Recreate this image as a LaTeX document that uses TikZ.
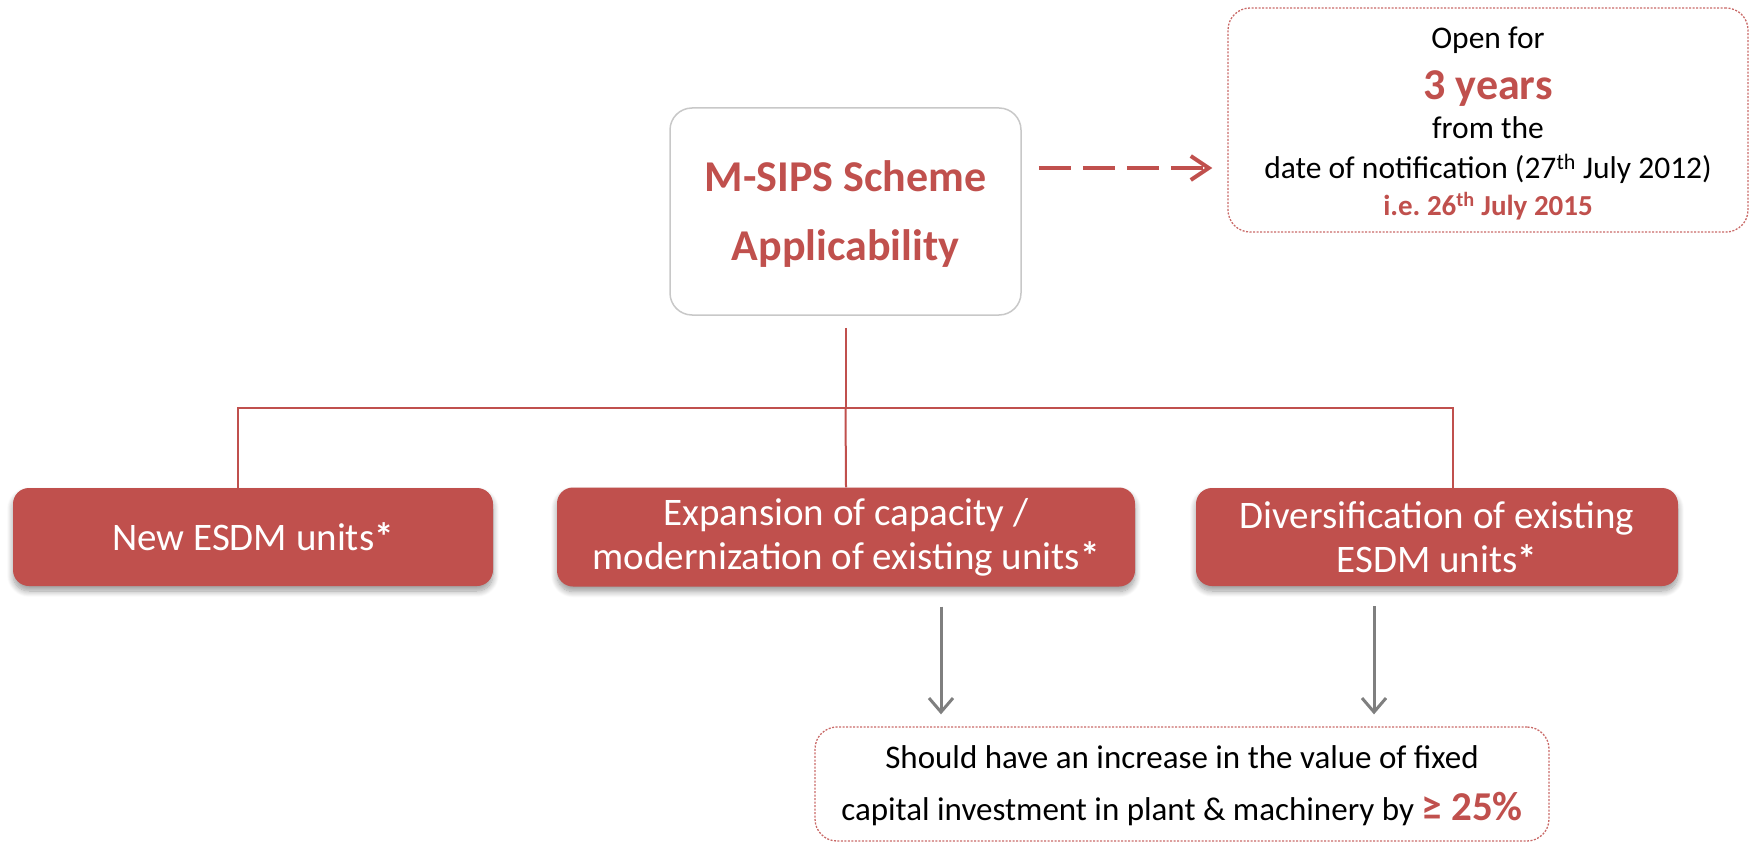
\documentclass[tikz,border=0pt]{standalone}
\usepackage{fontspec}
\setmainfont{Carlito}
\usetikzlibrary{arrows.meta,shadows.blur}
\definecolor{accent}{HTML}{C0504D}
\definecolor{framegray}{HTML}{C8C8C8}
\definecolor{arrowgray}{HTML}{7F7F7F}
\newcommand{\boldstar}{\textbf{*}}

\begin{document}
\begin{tikzpicture}[x=1pt,y=-1pt,
  redbox/.style={rectangle, rounded corners=16pt, fill=accent, draw=none,
    text=white, align=center, inner sep=0pt,
    font=\fontsize{39}{44}\selectfont,
    blur shadow={shadow xshift=0pt, shadow yshift=-5pt, shadow blur steps=10,
      shadow opacity=40, shadow blur radius=6pt}},
  titlebox/.style={rectangle, rounded corners=22pt, draw=framegray, line width=1.5pt,
    fill=white, align=center, inner sep=0pt, text=accent,
    font=\fontsize{44}{69}\selectfont\bfseries},
  notebox/.style={rectangle, rounded corners=22pt, draw=accent!85, line width=1.3pt,
    dash pattern=on 2pt off 1.5pt, inner sep=0pt},
  txt/.style={anchor=base, inner sep=0pt, font=\fontsize{31.5}{37}\selectfont},
  conn/.style={draw=accent, line width=2pt},
  dasharrow/.style={draw=accent, line width=4pt, dash pattern=on 32pt off 12pt,
    -{Straight Barb[length=18pt,width=24pt]}},
  grayarrow/.style={draw=arrowgray, line width=3pt,
    -{Straight Barb[length=14pt,width=24pt]}}
]
\useasboundingbox (0,0) rectangle (1750,842);

% main heading
\node[titlebox, minimum width=351pt, minimum height=207pt] (top) at (845.5,211.5)
  {\rule{0pt}{36pt}M-SIPS Scheme\\Applicability};

% validity note
\node[notebox, minimum width=520pt, minimum height=224pt] (open) at (1488,120) {};
\node[txt] (open1) at (1488,49) {Open for};
\node[txt, text=accent, font=\fontsize{44}{50}\selectfont\bfseries] (open2) at (1488,100) {3 years};
\node[txt] (open3) at (1488,138.5) {from the};
\node[txt] (open4) at (1488,179) {date of notification (27\textsuperscript{th} July 2012)};
\node[txt, text=accent, font=\fontsize{29}{35}\selectfont\bfseries] (open5) at (1488,216)
  {i.e.\ 26\textsuperscript{th} July 2015};

% the three categories
\node[redbox, minimum width=480pt, minimum height=98pt] (new) at (253,537)
  {New ESDM units\boldstar};
\node[redbox, minimum width=578pt, minimum height=99pt] (exp) at (846,537)
  {Expansion of capacity /\\modernization of existing units\boldstar};
\node[redbox, minimum width=482pt, minimum height=98pt] (div) at (1437,537)
  {Diversification of existing\\ESDM units\boldstar};

% requirement note
\node[notebox, minimum width=734pt, minimum height=114pt] (req) at (1182,784) {};
\node[txt, font=\fontsize{33}{37}\selectfont] (req1) at (1182,768)
  {Should have an increase in the value of fixed};
\node[txt, font=\fontsize{33}{37}\selectfont] (req2) at (1182,820)
  {capital investment in plant \& machinery by
  {\color{accent}\bfseries\fontsize{41}{45}\selectfont ≥ 25\%}};

% tree connectors
\coordinate (bus) at (846,408);
\coordinate (arrowrow) at (0,168);
\draw[conn] ([yshift=-12pt]top.south) -- (top.south |- bus);
\draw[conn] ([xshift=-15pt]new.north) |- ([xshift=16pt]div.north |- bus)
  -- ([xshift=16pt]div.north);
\draw[conn] (top.south |- bus) -- (exp.north);

% dashed pointer to the validity note
\draw[dasharrow] ([xshift=17pt]top.east |- arrowrow) -- ([xshift=-15pt]open.west |- arrowrow);

% arrows to the requirement
\coordinate (ea) at ([xshift=95pt]exp.south);
\coordinate (da) at ([xshift=-63pt]div.south);
\draw[grayarrow] ([yshift=-20pt]ea) -- ([yshift=12pt]ea |- req.north);
\draw[grayarrow] ([yshift=-20pt]da) -- ([yshift=12pt]da |- req.north);
\end{tikzpicture}
\end{document}
